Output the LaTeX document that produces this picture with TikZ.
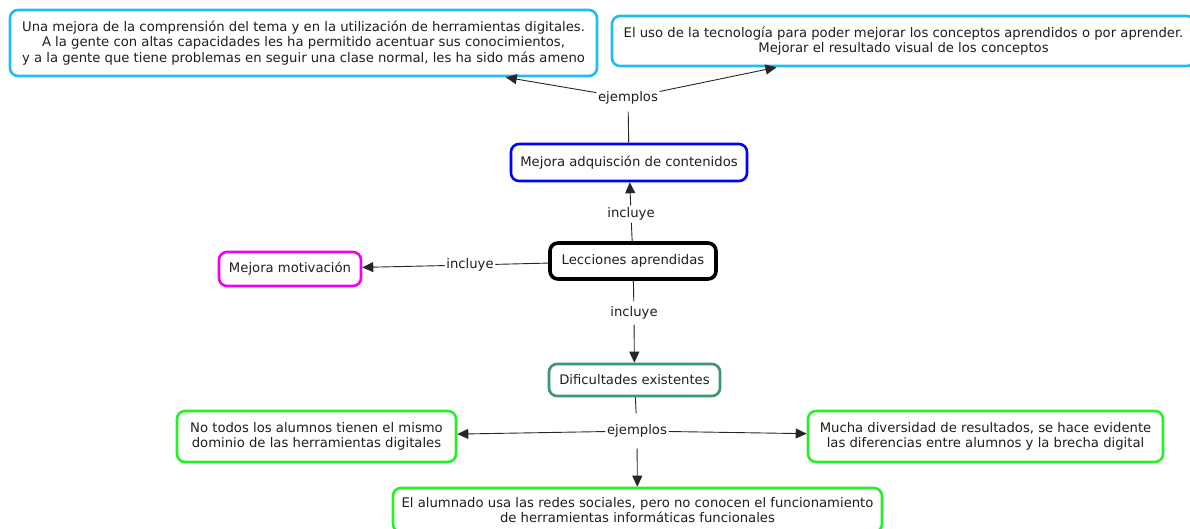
\documentclass[tikz,border=0pt]{standalone}
\usepackage{fontspec}
\setmainfont{DejaVu Sans}
\usetikzlibrary{arrows.meta}
\definecolor{cyanb}{RGB}{30,190,240}
\definecolor{blueb}{RGB}{0,0,255}
\definecolor{magb}{RGB}{240,0,240}
\definecolor{tealb}{RGB}{60,150,110}
\definecolor{greenb}{RGB}{40,240,40}
\definecolor{txt}{RGB}{30,30,30}
\tikzset{
  box/.style={draw, rounded corners=8pt, line width=2.6pt, fill=white, align=center,
    inner sep=0pt, text=txt, font=\fontsize{13.2}{15.5}\selectfont},
  lbl/.style={fill=white, inner xsep=1.5pt, inner ysep=2pt, text=txt, font=\fontsize{13.2}{15}\selectfont},
  conn/.style={line width=0.9pt, draw=black!85},
  arr/.style={conn, -{Triangle[length=11pt,width=10pt]}}
}
\begin{document}
\begin{tikzpicture}[x=1pt,y=-1pt]
\useasboundingbox[fill=white] (0,0) rectangle (1190,529);
\begin{scope}
\clip (0,0) rectangle (1190,529);
\node[box, draw=cyanb, minimum width=587pt, minimum height=66pt] (tl) at (303.5,43)
 {Una mejora de la comprensión del tema y en la utilización de herramientas digitales.\\
  A la gente con altas capacidades les ha permitido acentuar sus conocimientos,\\
  y a la gente que tiene problemas en seguir una clase normal, les ha sido más ameno};
\node[box, draw=cyanb, minimum width=583pt, minimum height=50pt] (tr) at (903.5,41)
 {El uso de la tecnología para poder mejorar los conceptos aprendidos o por aprender.\\
  Mejorar el resultado visual de los conceptos};
\node[box, draw=blueb, minimum width=236pt, minimum height=37pt] (mad) at (629,162.5)
 {Mejora adquisción de contenidos};
\node[box, draw=black, line width=3.6pt, minimum width=166pt, minimum height=36pt] (lec) at (633,261)
 {Lecciones aprendidas};
\node[box, draw=magb, minimum width=142pt, minimum height=34pt] (mot) at (290,269)
 {Mejora motivación};
\node[box, draw=tealb, minimum width=171pt, minimum height=32pt] (dif) at (634.5,380)
 {Dificultades existentes};
\node[box, draw=greenb, minimum width=279pt, minimum height=51pt] (nt) at (316.5,436.5)
 {No todos los alumnos tienen el mismo\\ dominio de las herramientas digitales};
\node[box, draw=greenb, minimum width=355pt, minimum height=51pt] (mu) at (985.5,436.5)
 {Mucha diversidad de resultados, se hace evidente\\ las diferencias entre alumnos y la brecha digital};
\node[box, draw=greenb, minimum width=489pt, minimum height=44pt] (al) at (637.5,510)
 {El alumnado usa las redes sociales, pero no conocen el funcionamiento\\ de herramientas informáticas funcionales};

\node[lbl, inner ysep=7pt] (ej1) at (628,98) {ejemplos};
\node[lbl] (in1) at (631,214) {incluye};
\node[lbl] (in2) at (470,265) {incluye};
\node[lbl, inner ysep=5pt] (in3) at (634,313) {incluye};
\node[lbl, inner ysep=11pt] (ej2) at (637,431) {ejemplos};

\draw[conn] (mad) -- (ej1);
\draw[arr] (ej1) -- (tl);
\draw[arr] (ej1) -- (tr);
\draw[conn] (lec) -- (in1);
\draw[arr] (in1) -- (mad);
\draw[conn] (lec) -- (in2);
\draw[arr] (in2) -- (mot);
\draw[conn] (lec) -- (in3);
\draw[arr] (in3) -- (dif);
\draw[conn] (dif) -- (ej2);
\draw[arr] (ej2) -- (nt);
\draw[arr] (ej2) -- (mu);
\draw[arr] (ej2) -- (al);
\end{scope}
\end{tikzpicture}
\end{document}
